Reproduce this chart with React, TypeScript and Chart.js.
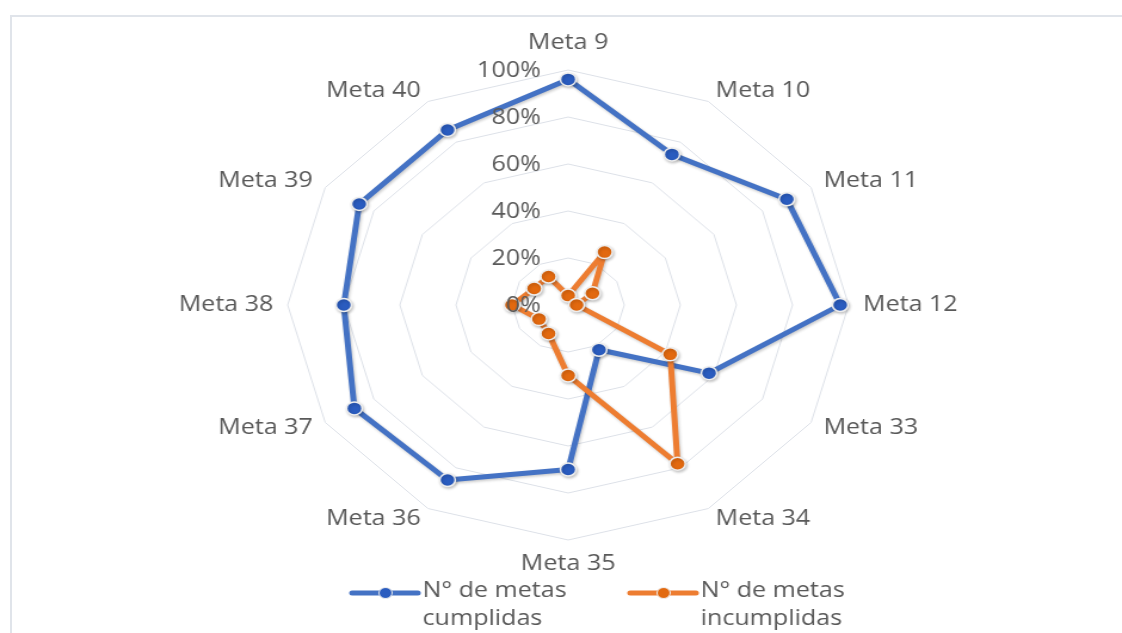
import React, { useEffect, useRef } from "react";
import { Chart, registerables } from "chart.js";

Chart.register(...registerables);

// ---- data ----
const categories = [
  "Meta 9", "Meta 10", "Meta 11", "Meta 12", "Meta 33", "Meta 34",
  "Meta 35", "Meta 36", "Meta 37", "Meta 38", "Meta 39", "Meta 40",
];
const cumplidas = [96, 74, 90, 97, 58, 22, 70, 86, 88, 80, 86, 86];
const incumplidas = [4, 26, 10, 3, 42, 78, 30, 14, 12, 20, 14, 14];
const seriesCumplidas = ["N° de metas", "cumplidas"];
const seriesIncumplidas = ["N° de metas", "incumplidas"];
const tickValues = [0, 20, 40, 60, 80, 100];
const tickLabels = ["0%", "20%", "40%", "60%", "80%", "100%"];

// ---- style ----
const STRETCH = 1.1936;
const BASE_W = 940;
const BASE_H = 633;
const FONT = "'Open Sans'";
const FONT_SIZE = 21;
const TEXT = "#595959";
const BLUE = "#4472c4";
const BLUE_DARK = "#2a5cbf";
const ORANGE = "#ed7d31";
const ORANGE_DARK = "#e2690f";
const GRID = "#dde1e8";
const LABEL_GAP = 12;
const LEGEND_X = [295, 528];
const LEGEND_Y = 593;
const LEGEND_LINE2 = 28;

const shadowPlugin = {
  id: "seriesShadow",
  beforeDatasetDraw(chart: any) {
    const ctx = chart.ctx;
    ctx.save();
    ctx.shadowColor = "rgba(0,0,0,0.22)";
    ctx.shadowBlur = 3;
    ctx.shadowOffsetX = 1;
    ctx.shadowOffsetY = 1.5;
  },
  afterDatasetDraw(chart: any) {
    chart.ctx.restore();
  },
};

const tickPlugin = {
  id: "pctTicks",
  afterDatasetsDraw(chart: any) {
    const s = chart.scales.r;
    const ctx = chart.ctx;
    ctx.save();
    ctx.font = `${FONT_SIZE}px ${FONT}`;
    ctx.fillStyle = TEXT;
    ctx.textAlign = "right";
    ctx.textBaseline = "middle";
    tickValues.forEach((v, i) => {
      const d = s.getDistanceFromCenterForValue(v);
      ctx.fillText(tickLabels[i], s.xCenter - 23, s.yCenter - d + 1);
    });
    ctx.restore();
  },
};

const pointLabelPlugin = {
  id: "excelPointLabels",
  afterDraw(chart: any) {
    const s = chart.scales.r;
    const ctx = chart.ctx;
    const labels: string[] = chart.data.labels;
    ctx.save();
    ctx.font = `${FONT_SIZE}px ${FONT}`;
    ctx.fillStyle = TEXT;
    ctx.textBaseline = "middle";
    labels.forEach((lab, i) => {
      const p = s.getPointPosition(i, s.drawingArea + LABEL_GAP);
      const dx = p.x - s.xCenter;
      const dy = p.y - s.yCenter;
      let y = p.y;
      if (Math.abs(dx) < 1) {
        ctx.textAlign = "center";
        y = dy < 0 ? p.y - 15 : p.y + 12;
      } else {
        ctx.textAlign = dx > 0 ? "left" : "right";
      }
      ctx.fillText(lab, p.x, y);
    });
    ctx.restore();
  },
};

const legendPlugin = {
  id: "twoLineLegend",
  afterDraw(chart: any) {
    const ctx = chart.ctx;
    ctx.save();
    chart.data.datasets.forEach((ds: any, i: number) => {
      const x0 = LEGEND_X[i];
      const y = LEGEND_Y;
      ctx.strokeStyle = ds.borderColor;
      ctx.lineWidth = 5;
      ctx.lineCap = "round";
      ctx.beginPath();
      ctx.moveTo(x0, y);
      ctx.lineTo(x0 + 55, y);
      ctx.stroke();
      ctx.beginPath();
      ctx.arc(x0 + 28, y, 5.5, 0, Math.PI * 2);
      ctx.fillStyle = ds.pointBackgroundColor;
      ctx.fill();
      ctx.lineWidth = 1;
      ctx.strokeStyle = ds.pointBorderColor;
      ctx.stroke();
      ctx.font = `${FONT_SIZE}px ${FONT}`;
      ctx.fillStyle = TEXT;
      ctx.textAlign = "left";
      ctx.textBaseline = "middle";
      const lines: string[] = ds.legendLines;
      lines.forEach((t, k) => {
        ctx.fillText(t, x0 + 59, y - 2 + k * LEGEND_LINE2);
      });
    });
    ctx.restore();
  },
};

export default function App() {
  const ref = useRef<HTMLCanvasElement | null>(null);

  useEffect(() => {
    if (!ref.current) return;
    const common = {
      borderWidth: 5,
      borderJoinStyle: "round",
      borderCapStyle: "round",
      pointRadius: 6.5,
      pointBorderWidth: 1.5,
      pointBorderColor: "#eeeeee",
      fill: false,
      tension: 0,
    };
    const chart = new Chart(ref.current, {
      type: "radar",
      data: {
        labels: categories,
        datasets: [
          {
            ...common,
            label: seriesCumplidas.join(" "),
            legendLines: seriesCumplidas,
            data: cumplidas,
            borderColor: BLUE,
            backgroundColor: BLUE,
            pointBackgroundColor: BLUE_DARK,
            order: 2,
          } as any,
          {
            ...common,
            label: seriesIncumplidas.join(" "),
            legendLines: seriesIncumplidas,
            data: incumplidas,
            borderColor: ORANGE,
            backgroundColor: ORANGE,
            pointBackgroundColor: ORANGE_DARK,
            order: 1,
          } as any,
        ],
      },
      options: {
        responsive: false,
        animation: false,
        layout: { padding: { left: 12, right: 0, top: 70, bottom: BASE_H - 70 - 470 } },
        plugins: {
          legend: { display: false },
          tooltip: { enabled: false },
        },
        scales: {
          r: {
            min: 0,
            max: 100,
            ticks: { display: false, stepSize: 20 },
            angleLines: { display: false },
            grid: { color: GRID, lineWidth: 1, circular: false },
            pointLabels: { display: false },
          },
        },
      },
      plugins: [shadowPlugin, tickPlugin, pointLabelPlugin, legendPlugin],
    });
    return () => chart.destroy();
  }, []);

  return (
    <div
      style={{
        position: "fixed",
        left: 0,
        top: 0,
        width: 1122,
        height: 633,
        background: "#ffffff",
        overflow: "hidden",
      }}
    >
      <div
        style={{
          position: "absolute",
          left: 10,
          top: 15,
          width: 1200,
          height: 700,
          borderLeft: "2.5px solid #e0e4ea",
          borderTop: "2.5px solid #e0e4ea",
          boxSizing: "border-box",
        }}
      />
      <div
        style={{
          position: "absolute",
          left: 0,
          top: 0,
          width: BASE_W,
          height: BASE_H,
          transform: `scaleX(${STRETCH})`,
          transformOrigin: "0 0",
        }}
      >
        <canvas ref={ref} width={BASE_W} height={BASE_H} style={{ display: "block" }} />
      </div>
    </div>
  );
}
